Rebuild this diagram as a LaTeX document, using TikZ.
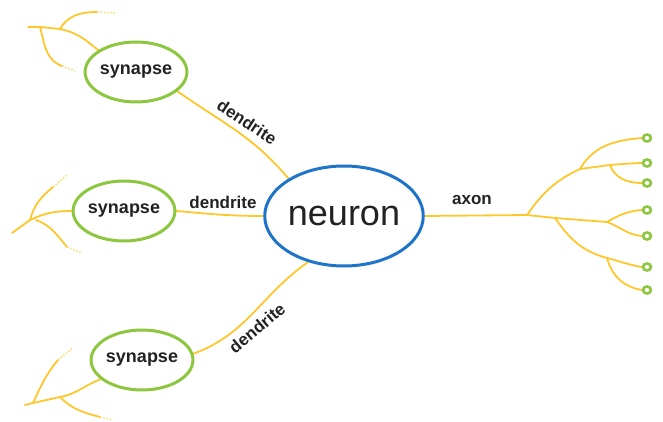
\documentclass[tikz,border=0pt]{standalone}
\usepackage{fontspec}
\setmainfont{Liberation Sans}
\usetikzlibrary{shapes.geometric,backgrounds}
\definecolor{dyellow}{HTML}{FFC72C}
\definecolor{sgreen}{HTML}{8DC63F}
\definecolor{nblue}{HTML}{1E74C9}
\definecolor{txt}{HTML}{222222}
\begin{document}
\begin{tikzpicture}[x=1pt,y=1pt,
  wire/.style={draw=dyellow, line width=1.8pt, line cap=round},
  fade/.style={draw=dyellow!70, line width=1.5pt, dash pattern=on 1.5pt off 1.8pt},
  synbox/.style={ellipse, draw=sgreen, line width=3pt, fill=white, minimum width=80pt, minimum height=60pt, inner sep=0pt, font=\fontsize{18}{18}\selectfont\bfseries, text=txt},
  neubox/.style={ellipse, draw=nblue, line width=3pt, fill=white, minimum width=140pt, minimum height=100pt, inner sep=0pt, font=\fontsize{36}{36}\selectfont, text=txt},
  lbl/.style={font=\fontsize{17}{17}\selectfont\bfseries, text=txt, inner sep=1pt},
  term/.style={ellipse, draw=sgreen, line width=2.6pt, fill=white, minimum width=8pt, minimum height=7pt, inner sep=0pt}]
\useasboundingbox (0,0) rectangle (663,421);

% nodes
\node[neubox] (n) at (344,205) {neuron};
\node[synbox] (s1) at (136,349) {synapse};
\node[synbox] (s2) at (124,210) {synapse};
\node[synbox] (s3) at (142,61) {synapse};

\node[term] (t1) at (647,283) {};
\node[term] (t2) at (647,258) {};
\node[term] (t3) at (647,238) {};
\node[term] (t4) at (647,211) {};
\node[term] (t5) at (647,185) {};
\node[term] (t6) at (647,154) {};
\node[term] (t7) at (647,131) {};

\node[lbl, rotate=-33] (l1) at (247,299) {dendrite};
\node[lbl] (l2) at (223,219) {dendrite};
\node[lbl, rotate=40] (l3) at (257,93) {dendrite};
\node[lbl] (lax) at (472,221) {axon};

% branch points
\coordinate (a0) at (527,206);
\coordinate (a1) at (555,203);
\coordinate (a2) at (607,199);
\coordinate (b1) at (607,163);
\coordinate (c1) at (580,252);
\coordinate (c2) at (610,256);

\coordinate (d1a) at (60,392);
\coordinate (d1e) at (40,394);
\coordinate (d1b) at (28,394);
\coordinate (d1c) at (97,409);
\coordinate (d1d) at (117,408);
\coordinate (d1f) at (62,355);
\coordinate (d1g) at (75,350);

\coordinate (e1) at (30,201);
\coordinate (e2) at (12,188);
\coordinate (e3) at (53,234);
\coordinate (e4) at (67,246);
\coordinate (e5) at (36,201);
\coordinate (e6) at (67,174);
\coordinate (e7) at (82,168);

\coordinate (f1) at (60,24);
\coordinate (f2) at (33,18);
\coordinate (f3) at (25,16);
\coordinate (f4) at (58,61);
\coordinate (f5) at (73,73);
\coordinate (f6) at (100,4);
\coordinate (f7) at (113,1);

\begin{scope}[on background layer]
% main connectors
\draw[wire] (s1.-25) to[out=-35, in=130] (n.146);
\draw[wire] (s2.east) to[out=-5, in=180] (n.west);
\draw[wire] (n.-128) to[out=-145, in=20] (s3.7);
\draw[wire] (n.east) -- (a0);

% axon tree
\draw[wire] (a0) -- (a1) -- (a2);
\draw[wire] (a2) to[out=30, in=185] (t4.west);
\draw[wire] (a2) to[out=-20, in=175] (t5.west);
\draw[wire] (a1) to[out=-55, in=165] (b1);
\draw[wire] (b1) to[out=-15, in=170] (t6.west);
\draw[wire] (b1) to[out=-75, in=170] (t7.west);
\draw[wire] (a0) to[out=55, in=205] (c1);
\draw[wire] (c1) to[out=60, in=185] (t1.west);
\draw[wire] (c1) -- (c2) to[out=5, in=182] (t2.west);
\draw[wire] (c2) to[out=-70, in=180] (t3.west);

% synapse 1 tree
\draw[wire] (s1.150) to[out=140, in=-12] (d1a) -- (d1e) -- (d1b);
\draw[wire] (d1a) to[out=60, in=180] (d1c);
\draw[fade] (d1c) -- (d1d);
\draw[wire] (d1e) to[out=-75, in=160] (d1f);
\draw[fade] (d1f) -- (d1g);

% synapse 2 tree
\draw[wire] (s2.west) to[out=180, in=25] (e1) -- (e2);
\draw[wire] (e1) to[out=75, in=220] (e3);
\draw[fade] (e3) -- (e4);
\draw[wire] (e5) to[out=-20, in=130] (e6);
\draw[fade] (e6) -- (e7);

% synapse 3 tree
\draw[wire] (s3.205) to[out=200, in=10] (f1) -- (f2) -- (f3);
\draw[wire] (f2) to[out=65, in=230] (f4);
\draw[fade] (f4) -- (f5);
\draw[wire] (f1) to[out=-45, in=165] (f6);
\draw[fade] (f6) -- (f7);
\end{scope}
\end{tikzpicture}
\end{document}
